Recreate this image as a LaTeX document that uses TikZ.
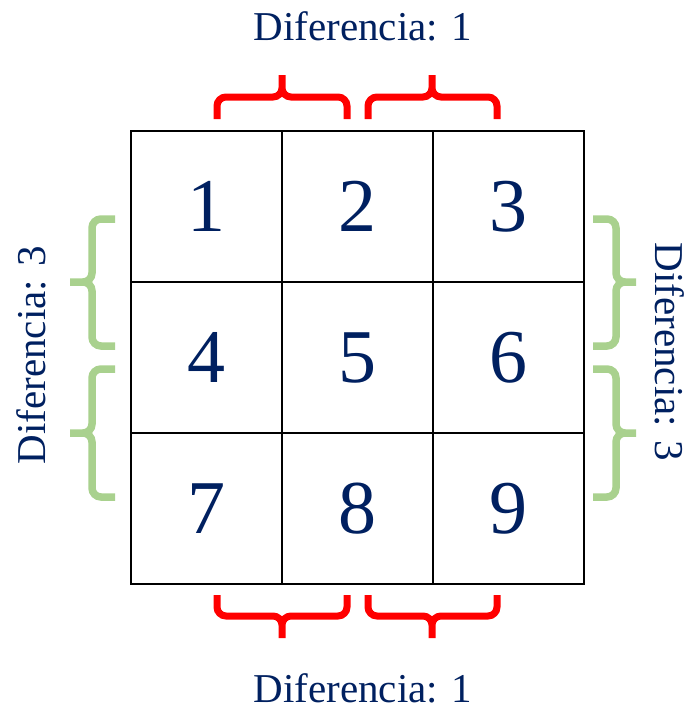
\documentclass[tikz,border=0pt]{standalone}
\usepackage{fontspec}
\setmainfont{Liberation Serif}
\definecolor{D06navy}{HTML}{002060}
\definecolor{D06lgreen}{HTML}{A9D18E}
\tikzset{D06cell/.style={draw,line width=2.5pt,minimum size=151pt,inner sep=0pt,
           font=\fontsize{76}{76}\selectfont,text=D06navy},
         D06red/.style={draw=red,line width=7pt,rounded corners=9pt},
         D06grn/.style={draw=D06lgreen,line width=7.5pt,rounded corners=9pt},
         D06lab/.style={font=\fontsize{41}{41}\selectfont,text=D06navy,inner sep=0pt,anchor=base}}

\begin{document}
\begin{tikzpicture}[x=1pt,y=-1pt]
    \useasboundingbox (0,0) rectangle (691,709);
    \foreach \r in {0,1,2}
      \foreach \c in {0,1,2}
        {\pgfmathtruncatemacro\n{3*\r+\c+1}
         \node[D06cell] (c\n) at (206.5+151*\c,206.5+151*\r) {\n};}
    % horizontal braces
    \foreach \a/\b/\m in {217/347/282,368/497/432}
      {\draw[D06red] (\a,119)--(\a,97)--(\m,97)--(\m,75) (\b,119)--(\b,97)--(\m,97)--(\m,75);
       \draw[D06red] (\a,595)--(\a,616)--(\m,616)--(\m,638) (\b,595)--(\b,616)--(\m,616)--(\m,638);}
    % vertical braces
    \foreach \a/\b/\m in {219/346/282,369/497/433}
      {\draw[D06grn] (115,\a)--(92,\a)--(92,\m)--(70,\m) (115,\b)--(92,\b)--(92,\m)--(70,\m);
       \draw[D06grn] (593,\a)--(616,\a)--(616,\m)--(636,\m) (593,\b)--(616,\b)--(616,\m)--(636,\m);}
    \node[D06lab] (top) at (363,41) {Diferencia: 1};
    \node[D06lab] (bot) at (363,702) {Diferencia: 1};
    \node[D06lab,rotate=90] (lft) at (45,355) {Diferencia: 3};
    \node[D06lab,rotate=-90] (rgt) at (655,352) {Diferencia: 3};
  \end{tikzpicture}
\end{document}
